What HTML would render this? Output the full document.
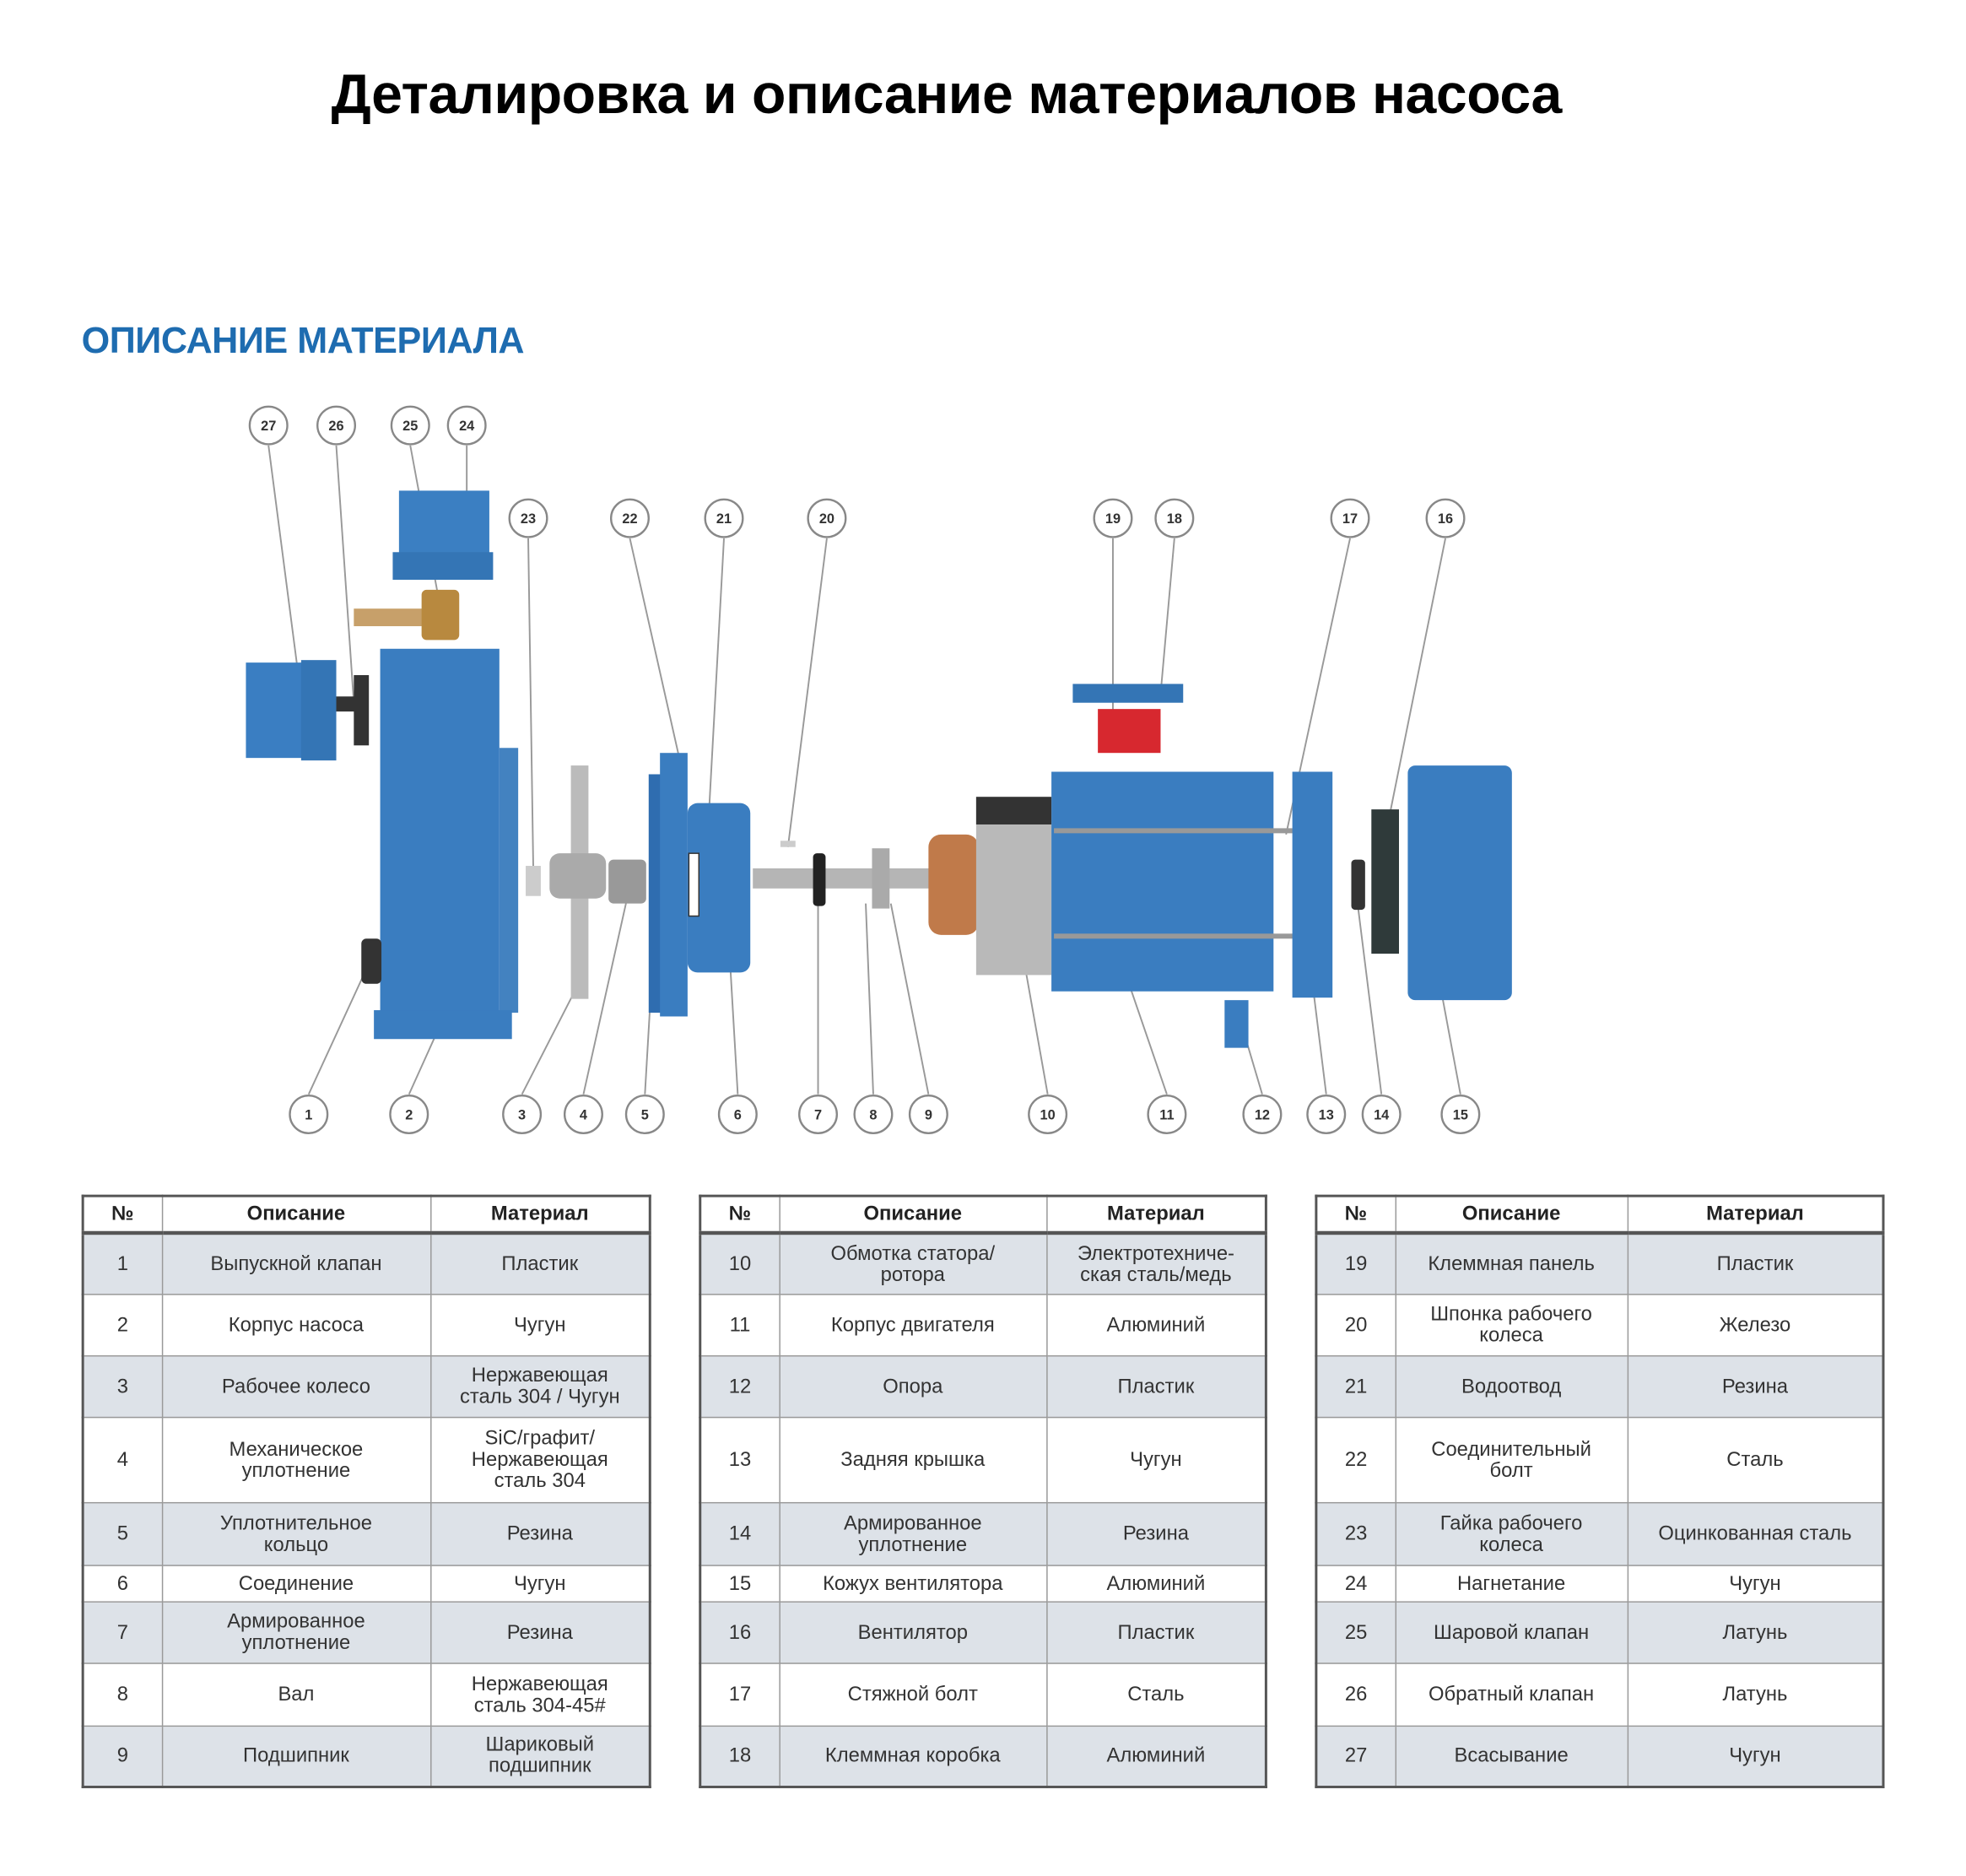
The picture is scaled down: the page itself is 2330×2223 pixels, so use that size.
<!DOCTYPE html>
<html><head><meta charset="utf-8">
<style>
html,body{margin:0;padding:0;background:#fff;}
body{width:2330px;height:2218px;overflow:hidden;position:relative;}
#s{position:absolute;left:0;top:0;width:1570px;height:1495px;transform:scale(1.487);transform-origin:0 0;}
.t{position:absolute;border-collapse:collapse;font-family:"Liberation Sans Narrow","Liberation Sans",sans-serif;font-size:16px;color:#333;border:2px solid #555;table-layout:fixed;}
.t td{border:1px solid #999;text-align:center;vertical-align:middle;padding:0 2px;line-height:17px;}
.t tr.h td{font-weight:bold;color:#222;height:27px;border-bottom:3px solid #555;}
.t tr.g td{background:#dde2e8;}
</style></head><body><div id="s">
<div style="position:absolute;left:264px;top:51px;font:bold 44.5px 'Liberation Sans',sans-serif;color:#000;white-space:nowrap;letter-spacing:-0.3px">Деталировка и описание материалов насоса</div>
<div style="position:absolute;left:65px;top:256px;font:bold 29px 'Liberation Sans',sans-serif;color:#1e6cb0;white-space:nowrap;letter-spacing:-0.3px">ОПИСАНИЕ МАТЕРИАЛА</div>

<svg style="position:absolute;left:0;top:0" width="1560" height="930" viewBox="0 0 1560 930">
<g stroke="#999" stroke-width="1.3" fill="none">
<line x1="214" y1="355" x2="240" y2="555"/><line x1="268" y1="355" x2="282" y2="560"/>
<line x1="327" y1="355" x2="352" y2="490"/><line x1="372" y1="355" x2="372" y2="405"/>
<line x1="421" y1="429" x2="425" y2="690"/><line x1="502" y1="429" x2="545" y2="620"/>
<line x1="577" y1="429" x2="563" y2="685"/><line x1="659" y1="429" x2="628" y2="675"/>
<line x1="887" y1="429" x2="887" y2="580"/><line x1="936" y1="429" x2="925" y2="553"/>
<line x1="1076" y1="429" x2="1025" y2="665"/><line x1="1152" y1="429" x2="1103" y2="672"/>
<line x1="246" y1="872" x2="293" y2="770"/><line x1="326" y1="872" x2="372" y2="770"/>
<line x1="416" y1="872" x2="458" y2="790"/><line x1="465" y1="872" x2="500" y2="715"/>
<line x1="514" y1="872" x2="522" y2="735"/><line x1="588" y1="872" x2="580" y2="735"/>
<line x1="652" y1="872" x2="652" y2="710"/><line x1="696" y1="872" x2="690" y2="720"/>
<line x1="740" y1="872" x2="710" y2="720"/><line x1="835" y1="872" x2="808" y2="720"/>
<line x1="930" y1="872" x2="895" y2="770"/><line x1="1006" y1="872" x2="990" y2="818"/>
<line x1="1057" y1="872" x2="1045" y2="775"/><line x1="1101" y1="872" x2="1082" y2="720"/>
<line x1="1164" y1="872" x2="1145" y2="770"/>
</g>
<rect x="282" y="485" width="60" height="14" fill="#c7a06a"/>
<rect x="336" y="470" width="30" height="40" rx="4" fill="#b8893f"/>
<rect x="318" y="391" width="72" height="66" fill="#3b7fc2"/>
<rect x="313" y="440" width="80" height="22" fill="#3475b5"/>
<rect x="196" y="528" width="48" height="76" fill="#3a7ec2"/>
<rect x="240" y="526" width="28" height="80" fill="#3475b5"/>
<rect x="268" y="555" width="16" height="12" fill="#333"/>
<rect x="282" y="538" width="12" height="56" fill="#333"/>
<rect x="303" y="517" width="95" height="290" fill="#3a7dc0"/>
<rect x="398" y="596" width="15" height="211" fill="#4382c0"/>
<rect x="298" y="805" width="110" height="23" fill="#3a7dc0"/>
<rect x="288" y="748" width="16" height="36" rx="4" fill="#333"/>
<rect x="419" y="690" width="12" height="24" fill="#ccc"/>
<rect x="455" y="610" width="14" height="186" fill="#bbb"/>
<rect x="438" y="680" width="45" height="36" rx="8" fill="#aaa"/>
<rect x="485" y="685" width="30" height="35" rx="4" fill="#999"/>
<rect x="517" y="617" width="16" height="190" fill="#2f6db0"/>
<rect x="526" y="600" width="22" height="210" fill="#3a7dc0"/>
<rect x="548" y="640" width="50" height="135" rx="8" fill="#3a7dc0"/>
<rect x="549" y="680" width="8" height="50" fill="#fff" stroke="#333"/>
<rect x="622" y="670" width="12" height="5" fill="#ccc"/>
<rect x="600" y="692" width="145" height="16" fill="#b5b5b5"/>
<rect x="648" y="680" width="10" height="42" rx="3" fill="#222"/>
<rect x="695" y="676" width="14" height="48" fill="#aaa"/>
<rect x="740" y="665" width="40" height="80" rx="10" fill="#c07a4a"/>
<rect x="778" y="635" width="60" height="142" fill="#b9b9b9"/>
<rect x="778" y="635" width="60" height="22" fill="#333"/>
<rect x="838" y="615" width="177" height="175" fill="#3a7dc0"/>
<rect x="855" y="545" width="88" height="15" fill="#3475b5"/>
<rect x="875" y="565" width="50" height="35" fill="#d7282f"/>
<rect x="840" y="660" width="215" height="4" fill="#999"/>
<rect x="840" y="744" width="215" height="4" fill="#999"/>
<rect x="976" y="797" width="19" height="38" fill="#3a7dc0"/>
<rect x="1030" y="615" width="32" height="180" fill="#3a7dc0"/>
<rect x="1077" y="685" width="11" height="40" rx="3" fill="#333"/>
<rect x="1093" y="645" width="22" height="115" fill="#2f3a3a"/>
<rect x="1122" y="610" width="83" height="187" rx="6" fill="#3a7dc0"/>
<g font-family="Liberation Sans,sans-serif" font-size="11" font-weight="bold" text-anchor="middle" fill="#333">
<circle cx="214" cy="339" r="15" fill="#fff" stroke="#888" stroke-width="1.6"/><text x="214" y="343">27</text>
<circle cx="268" cy="339" r="15" fill="#fff" stroke="#888" stroke-width="1.6"/><text x="268" y="343">26</text>
<circle cx="327" cy="339" r="15" fill="#fff" stroke="#888" stroke-width="1.6"/><text x="327" y="343">25</text>
<circle cx="372" cy="339" r="15" fill="#fff" stroke="#888" stroke-width="1.6"/><text x="372" y="343">24</text>
<circle cx="421" cy="413" r="15" fill="#fff" stroke="#888" stroke-width="1.6"/><text x="421" y="417">23</text>
<circle cx="502" cy="413" r="15" fill="#fff" stroke="#888" stroke-width="1.6"/><text x="502" y="417">22</text>
<circle cx="577" cy="413" r="15" fill="#fff" stroke="#888" stroke-width="1.6"/><text x="577" y="417">21</text>
<circle cx="659" cy="413" r="15" fill="#fff" stroke="#888" stroke-width="1.6"/><text x="659" y="417">20</text>
<circle cx="887" cy="413" r="15" fill="#fff" stroke="#888" stroke-width="1.6"/><text x="887" y="417">19</text>
<circle cx="936" cy="413" r="15" fill="#fff" stroke="#888" stroke-width="1.6"/><text x="936" y="417">18</text>
<circle cx="1076" cy="413" r="15" fill="#fff" stroke="#888" stroke-width="1.6"/><text x="1076" y="417">17</text>
<circle cx="1152" cy="413" r="15" fill="#fff" stroke="#888" stroke-width="1.6"/><text x="1152" y="417">16</text>
<circle cx="246" cy="888" r="15" fill="#fff" stroke="#888" stroke-width="1.6"/><text x="246" y="892">1</text>
<circle cx="326" cy="888" r="15" fill="#fff" stroke="#888" stroke-width="1.6"/><text x="326" y="892">2</text>
<circle cx="416" cy="888" r="15" fill="#fff" stroke="#888" stroke-width="1.6"/><text x="416" y="892">3</text>
<circle cx="465" cy="888" r="15" fill="#fff" stroke="#888" stroke-width="1.6"/><text x="465" y="892">4</text>
<circle cx="514" cy="888" r="15" fill="#fff" stroke="#888" stroke-width="1.6"/><text x="514" y="892">5</text>
<circle cx="588" cy="888" r="15" fill="#fff" stroke="#888" stroke-width="1.6"/><text x="588" y="892">6</text>
<circle cx="652" cy="888" r="15" fill="#fff" stroke="#888" stroke-width="1.6"/><text x="652" y="892">7</text>
<circle cx="696" cy="888" r="15" fill="#fff" stroke="#888" stroke-width="1.6"/><text x="696" y="892">8</text>
<circle cx="740" cy="888" r="15" fill="#fff" stroke="#888" stroke-width="1.6"/><text x="740" y="892">9</text>
<circle cx="835" cy="888" r="15" fill="#fff" stroke="#888" stroke-width="1.6"/><text x="835" y="892">10</text>
<circle cx="930" cy="888" r="15" fill="#fff" stroke="#888" stroke-width="1.6"/><text x="930" y="892">11</text>
<circle cx="1006" cy="888" r="15" fill="#fff" stroke="#888" stroke-width="1.6"/><text x="1006" y="892">12</text>
<circle cx="1057" cy="888" r="15" fill="#fff" stroke="#888" stroke-width="1.6"/><text x="1057" y="892">13</text>
<circle cx="1101" cy="888" r="15" fill="#fff" stroke="#888" stroke-width="1.6"/><text x="1101" y="892">14</text>
<circle cx="1164" cy="888" r="15" fill="#fff" stroke="#888" stroke-width="1.6"/><text x="1164" y="892">15</text>
</g>
</svg>

<table class="t" style="left:65px;top:952px;width:454px">
<colgroup><col style="width:63px"><col style="width:214px"><col></colgroup>
<tr class="h"><td>№</td><td>Описание</td><td>Материал</td></tr>
<tr class="g" style="height:49px"><td>1</td><td>Выпускной клапан</td><td>Пластик</td></tr>
<tr style="height:49px"><td>2</td><td>Корпус насоса</td><td>Чугун</td></tr>
<tr class="g" style="height:49px"><td>3</td><td>Рабочее колесо</td><td>Нержавеющая<br>сталь 304 / Чугун</td></tr>
<tr style="height:68px"><td>4</td><td>Механическое<br>уплотнение</td><td>SiC/графит/<br>Нержавеющая<br>сталь 304</td></tr>
<tr class="g" style="height:50px"><td>5</td><td>Уплотнительное<br>кольцо</td><td>Резина</td></tr>
<tr style="height:29px"><td>6</td><td>Соединение</td><td>Чугун</td></tr>
<tr class="g" style="height:49px"><td>7</td><td>Армированное<br>уплотнение</td><td>Резина</td></tr>
<tr style="height:50px"><td>8</td><td>Вал</td><td>Нержавеющая<br>сталь 304-45#</td></tr>
<tr class="g" style="height:48px"><td>9</td><td>Подшипник</td><td>Шариковый<br>подшипник</td></tr>
</table>

<table class="t" style="left:557px;top:952px;width:453px">
<colgroup><col style="width:63px"><col style="width:213px"><col></colgroup>
<tr class="h"><td>№</td><td>Описание</td><td>Материал</td></tr>
<tr class="g" style="height:49px"><td>10</td><td>Обмотка статора/<br>ротора</td><td>Электротехниче-<br>ская сталь/медь</td></tr>
<tr style="height:49px"><td>11</td><td>Корпус двигателя</td><td>Алюминий</td></tr>
<tr class="g" style="height:49px"><td>12</td><td>Опора</td><td>Пластик</td></tr>
<tr style="height:68px"><td>13</td><td>Задняя крышка</td><td>Чугун</td></tr>
<tr class="g" style="height:50px"><td>14</td><td>Армированное<br>уплотнение</td><td>Резина</td></tr>
<tr style="height:29px"><td>15</td><td>Кожух вентилятора</td><td>Алюминий</td></tr>
<tr class="g" style="height:49px"><td>16</td><td>Вентилятор</td><td>Пластик</td></tr>
<tr style="height:50px"><td>17</td><td>Стяжной болт</td><td>Сталь</td></tr>
<tr class="g" style="height:48px"><td>18</td><td>Клеммная коробка</td><td>Алюминий</td></tr>
</table>

<table class="t" style="left:1048px;top:952px;width:454px">
<colgroup><col style="width:63px"><col style="width:185px"><col></colgroup>
<tr class="h"><td>№</td><td>Описание</td><td>Материал</td></tr>
<tr class="g" style="height:49px"><td>19</td><td>Клеммная панель</td><td>Пластик</td></tr>
<tr style="height:49px"><td>20</td><td>Шпонка рабочего<br>колеса</td><td>Железо</td></tr>
<tr class="g" style="height:49px"><td>21</td><td>Водоотвод</td><td>Резина</td></tr>
<tr style="height:68px"><td>22</td><td>Соединительный<br>болт</td><td>Сталь</td></tr>
<tr class="g" style="height:50px"><td>23</td><td>Гайка рабочего<br>колеса</td><td>Оцинкованная сталь</td></tr>
<tr style="height:29px"><td>24</td><td>Нагнетание</td><td>Чугун</td></tr>
<tr class="g" style="height:49px"><td>25</td><td>Шаровой клапан</td><td>Латунь</td></tr>
<tr style="height:50px"><td>26</td><td>Обратный клапан</td><td>Латунь</td></tr>
<tr class="g" style="height:48px"><td>27</td><td>Всасывание</td><td>Чугун</td></tr>
</table>
</div></body></html>
